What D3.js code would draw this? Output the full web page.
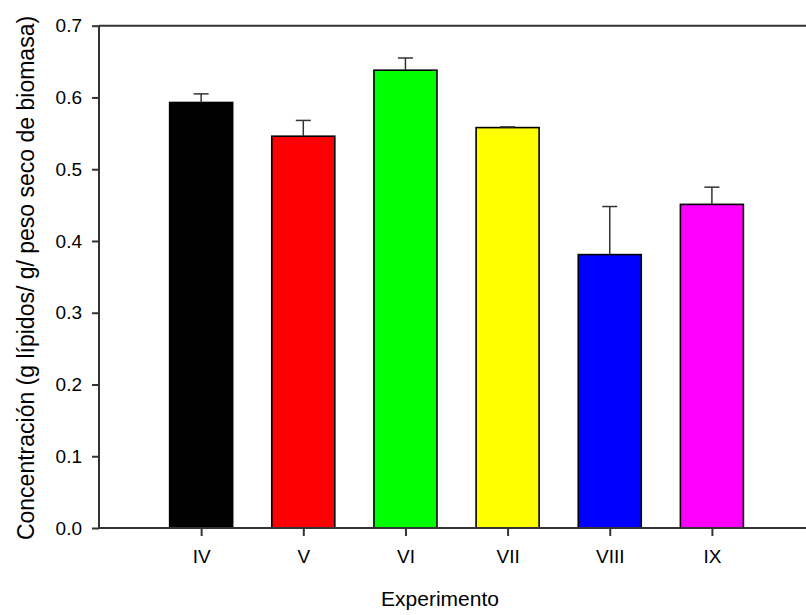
<!DOCTYPE html>
<html>
<head>
<meta charset="utf-8">
<script src="https://cdn.jsdelivr.net/npm/d3@7"></script>
<style>
  body { margin: 0; background: #fff; }
  text { font-family: "Liberation Sans", Arial, sans-serif; fill: #000; }
</style>
</head>
<body>
<svg width="806" height="615"></svg>
<script>
// data
var experiments = ["IV", "V", "VI", "VII", "VIII", "IX"];
var means = [0.593, 0.546, 0.638, 0.558, 0.381, 0.451];
var errors = [0.012, 0.022, 0.017, 0.001, 0.067, 0.024];
var colors = ["#000000", "#ff0000", "#00ff00", "#ffff00", "#0000ff", "#ff00ff"];
var yTicks = [0.0, 0.1, 0.2, 0.3, 0.4, 0.5, 0.6, 0.7];

var svg = d3.select("svg");

var plotLeft = 99, plotTop = 25.7, plotBottom = 528;
var step = 102.15;
var barW = 63;

// categories sit at 1..6 on a linear axis that runs off the right edge
var x = d3.scaleLinear().domain([0, 7]).range([plotLeft, plotLeft + 7 * step]);
var y = d3.scaleLinear().domain([0, 0.7]).range([plotBottom, plotTop]);

var axisColor = "#333";

// bars
svg.append("g")
  .selectAll("rect")
  .data(means)
  .enter().append("rect")
    .attr("x", function(d, i) { return x(i + 1) - barW / 2; })
    .attr("y", function(d) { return y(d); })
    .attr("width", barW)
    .attr("height", function(d) { return plotBottom - y(d); })
    .attr("fill", function(d, i) { return colors[i]; })
    .attr("stroke", "#000")
    .attr("stroke-width", 1.6);

// upper error bars
var eb = svg.append("g")
  .selectAll("g")
  .data(means)
  .enter().append("g")
    .attr("stroke", axisColor)
    .attr("stroke-width", 1.5);

eb.append("line")
  .attr("x1", function(d, i) { return x(i + 1); })
  .attr("x2", function(d, i) { return x(i + 1); })
  .attr("y1", function(d) { return y(d); })
  .attr("y2", function(d, i) { return y(d + errors[i]); });

eb.append("line")
  .attr("x1", function(d, i) { return x(i + 1) - 7.5; })
  .attr("x2", function(d, i) { return x(i + 1) + 7.5; })
  .attr("y1", function(d, i) { return y(d + errors[i]); })
  .attr("y2", function(d, i) { return y(d + errors[i]); });

// y axis
var yAxis = svg.append("g")
  .attr("transform", "translate(" + plotLeft + ",0)")
  .call(d3.axisLeft(y).tickValues(yTicks).tickFormat(d3.format(".1f")).tickSize(7).tickPadding(10));
yAxis.selectAll("line, path").attr("stroke", axisColor).attr("stroke-width", 2);
yAxis.select(".domain").attr("d", "M0," + plotTop + "V" + plotBottom);
yAxis.selectAll("text").attr("font-size", 19).attr("font-family", "Liberation Sans, Arial, sans-serif").attr("fill", "#000");

// x axis
var xAxis = svg.append("g")
  .attr("transform", "translate(0," + plotBottom + ")")
  .call(d3.axisBottom(x).tickValues(d3.range(1, experiments.length + 1))
    .tickFormat(function(d) { return experiments[d - 1]; })
    .tickSize(8).tickPadding(14));
xAxis.selectAll("line, path").attr("stroke", axisColor).attr("stroke-width", 2);
xAxis.select(".domain").attr("d", "M" + plotLeft + ",0H" + x(7));
xAxis.selectAll("text").attr("font-size", 19).attr("font-family", "Liberation Sans, Arial, sans-serif").attr("fill", "#000");

// top frame line
svg.append("line")
  .attr("x1", plotLeft).attr("x2", x(7))
  .attr("y1", plotTop).attr("y2", plotTop)
  .attr("stroke", axisColor).attr("stroke-width", 2);

// axis titles
svg.append("text")
  .attr("x", 440).attr("y", 606)
  .attr("text-anchor", "middle")
  .attr("font-size", 21)
  .text("Experimento");

svg.append("text")
  .attr("transform", "translate(34,278) rotate(-90)")
  .attr("text-anchor", "middle")
  .attr("font-size", 23)
  .text("Concentración (g lípidos/ g/ peso seco de biomasa)");
</script>
</body>
</html>
